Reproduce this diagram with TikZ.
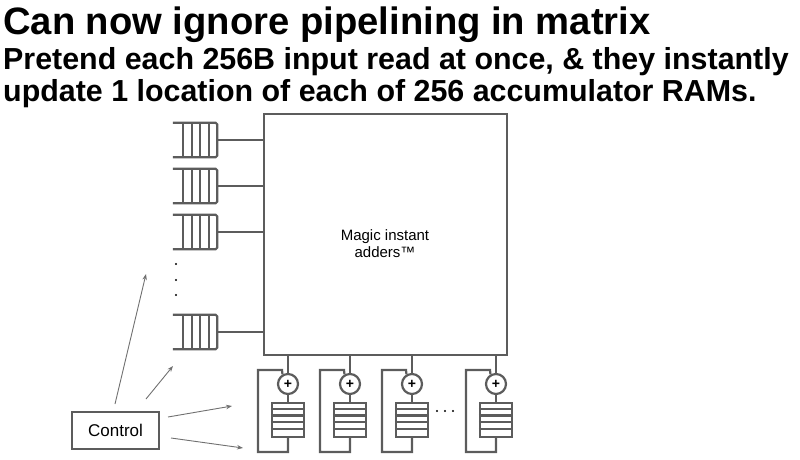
\documentclass[tikz,border=0pt]{standalone}
\usepackage{fontspec}
\setmainfont{Liberation Sans}
\usetikzlibrary{arrows.meta}
\definecolor{linegray}{HTML}{5c5c5c}
\definecolor{arrowgray}{HTML}{707070}
\begin{document}
\begin{tikzpicture}[x=1pt,y=-1pt,
  gline/.style={draw=linegray, line width=2.2pt},
  qbox/.style={draw=none, minimum width=44pt, minimum height=34pt, inner sep=0pt},
  rambox/.style={draw=linegray, line width=2.2pt, minimum width=32pt, minimum height=34pt, inner sep=0pt},
  adder/.style={circle, draw=linegray, line width=2.2pt, minimum size=20pt, inner sep=0pt, font=\bfseries\fontsize{14}{14}\selectfont},
  carrow/.style={draw=arrowgray, line width=0.9pt, -{Stealth[length=6pt,width=4.5pt]}},
  dotmark/.style={fill=black, draw=none}
]
\useasboundingbox (0,0) rectangle (800,460);

% titles
\node[anchor=base west, inner sep=0pt, font=\bfseries\fontsize{38.2}{40}\selectfont] (title) at (3,35) {Can now ignore pipelining in matrix};
\node[anchor=base west, inner sep=0pt, font=\bfseries\fontsize{30.4}{32}\selectfont] (sub1) at (3,70) {Pretend each 256B input read at once, \& they instantly};
\node[anchor=base west, inner sep=0pt, font=\bfseries\fontsize{30.4}{32}\selectfont] (sub2) at (3,101) {update 1 location of each of 256 accumulator RAMs.};

% big box
\node[gline, minimum width=243pt, minimum height=241pt, inner sep=0pt] (box) at (385.5,234.5) {};
\node[align=center, font=\fontsize{15}{17}\selectfont, inner sep=0pt] (magic) at (385,244) {Magic instant\\adders™};

% input queues
\foreach \i/\y in {1/140,2/186,3/232,4/332} {
  \node[qbox] (q\i) at (195,\y) {};
  \draw[gline, rounded corners=1.5pt] (q\i.north west) -- (q\i.north east) -- (q\i.south east) -- (q\i.south west);
  \foreach \f in {10.5,19,27.5,36} {
    \draw[gline] ([xshift=\f pt]q\i.north west) -- ([xshift=\f pt]q\i.south west);
  }
  \draw[gline] (q\i.east) -- (box.west |- q\i.east);
}
% vertical dots
\foreach \y in {264,280,295} { \fill[dotmark] (176,\y) circle (1.1pt); }

% accumulator units
\foreach \i/\cx in {1/288,2/350,3/412,4/496} {
  \node[adder] (ad\i) at (\cx,384) {+};
  \node[rambox] (ram\i) at (\cx,420) {};
  \foreach \f in {1,2,3,4} {
    \draw[gline] ([yshift=-\f*6.8pt]ram\i.north west) -- ([yshift=-\f*6.8pt]ram\i.north east);
  }
  \draw[gline] (box.south -| ad\i) -- (ad\i.north);
  \draw[gline] (ad\i.south) -- (ram\i.north);
  \draw[gline] (ram\i.south) -- (\cx,452) -- (\cx-30,452) -- (\cx-30,370) -- (\cx-6,370) -- (ad\i.120);
}
% horizontal dots
\foreach \x in {437,445,453} { \fill[dotmark] (\x,411) circle (1.1pt); }

% control
\node[draw=linegray, line width=2.2pt, minimum width=87pt, minimum height=37pt, inner sep=0pt, font=\fontsize{17}{17}\selectfont] (ctrl) at (115.5,430.5) {Control};
\coordinate (s1) at (115,404);
\coordinate (e1) at (146,274);
\coordinate (s2) at (146,399);
\coordinate (e2) at (173,366);
\coordinate (s3) at (168,417);
\coordinate (e3) at (232,406);
\coordinate (s4) at (171,438);
\coordinate (e4) at (243,448);
\draw[carrow] (s1) -- (e1);
\draw[carrow] (s2) -- (e2);
\draw[carrow] (s3) -- (e3);
\draw[carrow] (s4) -- (e4);
\end{tikzpicture}
\end{document}
